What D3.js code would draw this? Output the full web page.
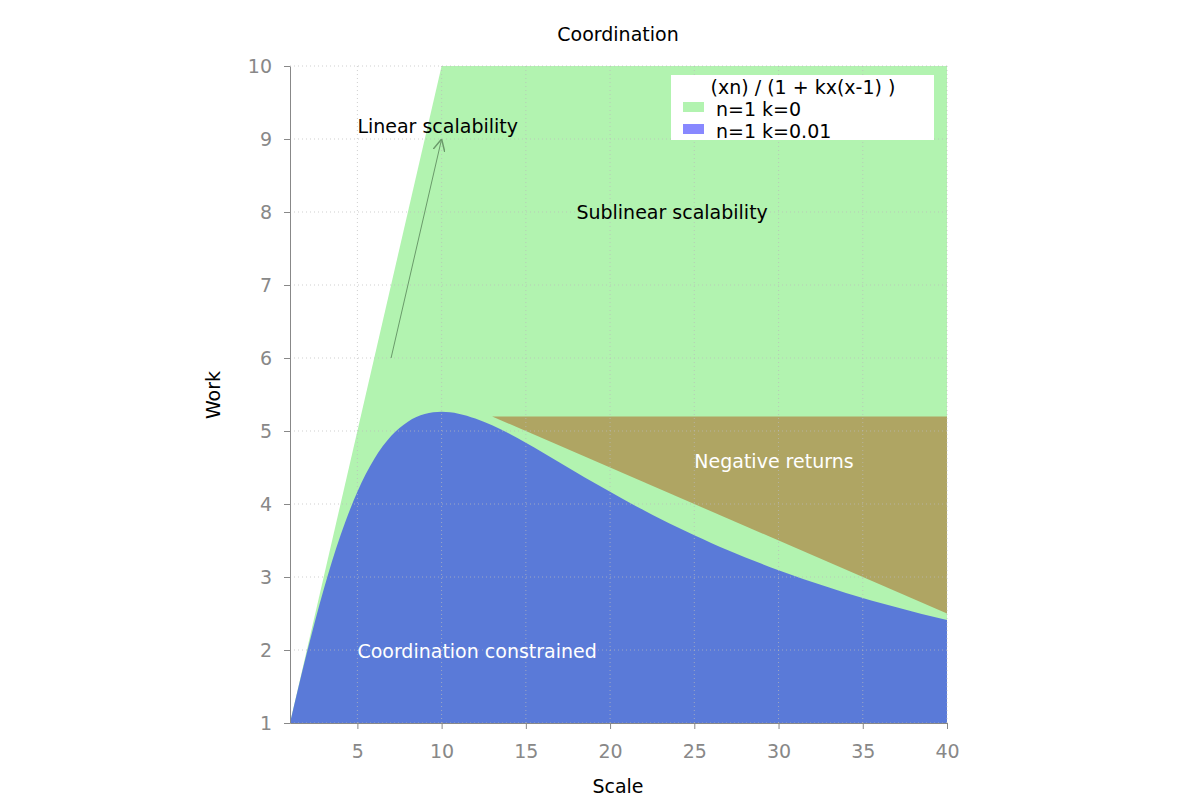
<!DOCTYPE html>
<html><head><meta charset="utf-8">
<script src="https://cdn.jsdelivr.net/npm/d3@7"></script>
<style>body{margin:0;background:#fff;} text{font-family:"DejaVu Sans",sans-serif;}</style>
</head><body>
<svg id="chart" width="1200" height="800"></svg>
<script>
// Data
const linearX = [1, 10, 40];
const linearY = [1, 10, 10];
const coordX = [1,2,3,4,5,6,7,8,9,10,11,12,13,14,15,16,17,18,19,20,21,22,23,24,25,26,27,28,29,30,31,32,33,34,35,36,37,38,39,40];
const coordY = [1,1.961,2.830,3.571,4.167,4.615,4.930,5.128,5.233,5.263,5.238,5.172,5.078,4.965,4.839,4.706,4.570,4.433,4.299,4.167,4.038,3.915,3.795,3.681,3.571,3.467,3.367,3.271,3.180,3.093,3.010,2.930,2.855,2.782,2.713,2.647,2.584,2.523,2.465,2.410];
const negX = [13, 40, 40];
const negY = [5.2, 5.2, 2.5];
const xTicks = [5,10,15,20,25,30,35,40];
const yTicks = [1,2,3,4,5,6,7,8,9,10];
const labels = ["Linear scalability","Sublinear scalability","Negative returns","Coordination constrained"];
const labelX = [5, 18, 25, 5];
const labelY = [9.16, 7.98, 4.57, 1.97];
const arrowX = [7, 10];
const arrowY = [6, 9];
const legendTitle = "(xn) / (1 + kx(x-1) )";
const legendNames = ["n=1 k=0","n=1 k=0.01"];

const svg = d3.select("#chart");
const L=290, R=947, T=66, B=723;
const x = d3.scaleLinear().domain([1,40]).range([L,R]);
const y = d3.scaleLinear().domain([1,10]).range([B,T]);
const green="#b2f3b0", blue="#5a7ad8", olive="#afa563";
const FS = "19px";

const area = (xs, ys, curve) => d3.area().x((d,i)=>x(xs[i])).y0(y(1)).y1((d,i)=>y(ys[i])).curve(curve)(xs);
svg.append("path").attr("d", area(linearX, linearY, d3.curveLinear)).attr("fill", green);
svg.append("path").attr("d", area(coordX, coordY, d3.curveMonotoneX)).attr("fill", blue);
svg.append("path").attr("d", d3.line().x((d,i)=>x(negX[i])).y((d,i)=>y(negY[i]))(negX)+"Z").attr("fill", olive);

// grid on top
const grid = svg.append("g").attr("stroke","#bbb").attr("stroke-dasharray","1,3").attr("stroke-opacity",0.7);
yTicks.forEach(t=>grid.append("line").attr("x1",L).attr("x2",R).attr("y1",y(t)).attr("y2",y(t)));
xTicks.forEach(t=>grid.append("line").attr("x1",x(t)).attr("x2",x(t)).attr("y1",T).attr("y2",B));

// axes
const gx = svg.append("g").attr("transform",`translate(0,${B})`).call(d3.axisBottom(x).tickValues(xTicks).tickSize(6).tickPadding(16).tickSizeOuter(0));
const gy = svg.append("g").attr("transform",`translate(${L},0)`).call(d3.axisLeft(y).tickValues(yTicks).tickSize(6).tickPadding(12).tickSizeOuter(0));
[gx,gy].forEach(g=>{
  g.select(".domain").attr("stroke","#888");
  g.selectAll(".tick line").attr("stroke","#888");
  g.selectAll(".tick text").attr("fill","#888").style("font-size",FS).style("font-family","DejaVu Sans");
});

// arrow
svg.append("defs").append("marker").attr("id","arr").attr("viewBox","0 0 10 10").attr("refX",10).attr("refY",5)
  .attr("markerWidth",12).attr("markerHeight",12).attr("orient","auto").attr("markerUnits","userSpaceOnUse")
  .append("path").attr("d","M0,0 L10,5 L0,10").attr("fill","none").attr("stroke","#6a9a6a").attr("stroke-width",1.2);
svg.append("line").attr("x1",x(arrowX[0])).attr("y1",y(arrowY[0])).attr("x2",x(arrowX[1])).attr("y2",y(arrowY[1]))
  .attr("stroke","#6a9a6a").attr("stroke-width",1).attr("marker-end","url(#arr)");

// annotations
const colors = ["#000","#000","#fff","#fff"];
labels.forEach((s,i)=>svg.append("text").attr("x",x(labelX[i])).attr("y",y(labelY[i])).attr("dominant-baseline","middle")
  .attr("fill",colors[i]).style("font-size",FS).text(s));

// titles
svg.append("text").attr("x",618).attr("y",35).attr("text-anchor","middle").attr("dominant-baseline","middle").style("font-size",FS).text("Coordination");
svg.append("text").attr("x",618).attr("y",787).attr("text-anchor","middle").attr("dominant-baseline","middle").style("font-size",FS).text("Scale");
svg.append("text").attr("transform","translate(214,395) rotate(-90)").attr("text-anchor","middle").attr("dominant-baseline","middle").style("font-size",FS).text("Work");

// legend
const lg = svg.append("g");
lg.append("rect").attr("x",671).attr("y",75).attr("width",263).attr("height",65).attr("fill","#fff");
lg.append("text").attr("x",803).attr("y",88).attr("text-anchor","middle").attr("dominant-baseline","middle").style("font-size",FS).text(legendTitle);
const swc = [green, "#8888ff"];
legendNames.forEach((n,i)=>{
  lg.append("rect").attr("x",683).attr("y",102+i*22).attr("width",21).attr("height",10).attr("fill",swc[i]);
  lg.append("text").attr("x",716).attr("y",110+i*22).attr("dominant-baseline","middle").style("font-size",FS).text(n);
});
</script>
</body></html>
